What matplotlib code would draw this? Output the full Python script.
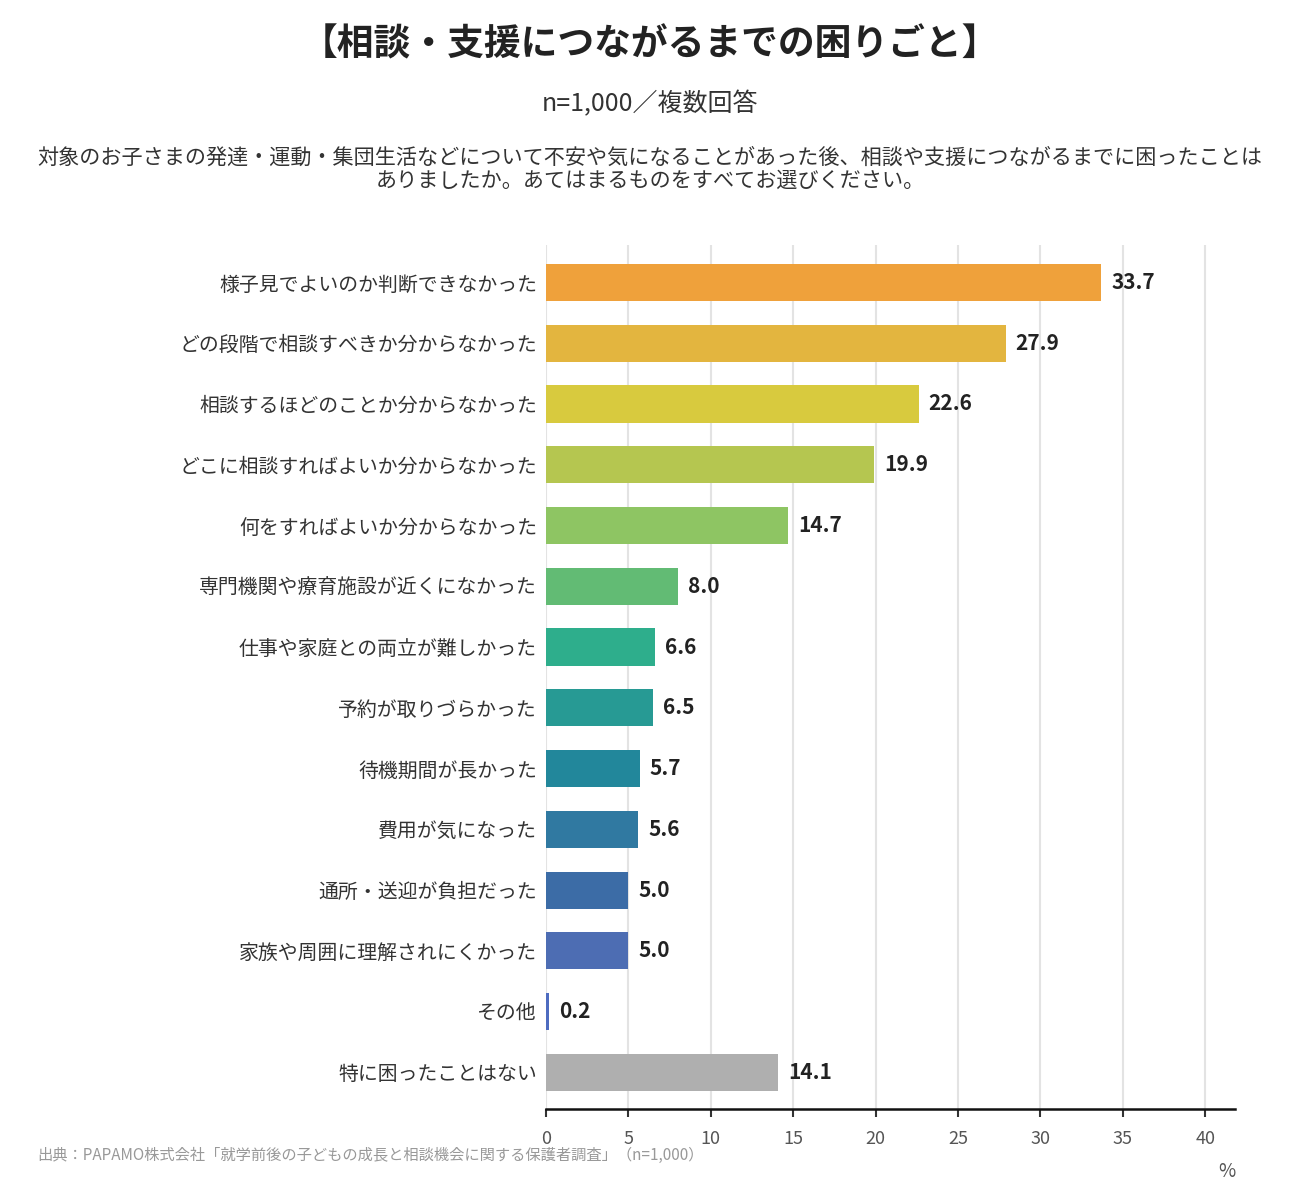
import matplotlib
matplotlib.use("Agg")
import matplotlib.pyplot as plt

plt.rcParams['font.family'] = ['Noto Sans CJK JP', 'DejaVu Sans']

# データ
categories = [
    "様子見でよいのか判断できなかった",
    "どの段階で相談すべきか分からなかった",
    "相談するほどのことか分からなかった",
    "どこに相談すればよいか分からなかった",
    "何をすればよいか分からなかった",
    "専門機関や療育施設が近くになかった",
    "仕事や家庭との両立が難しかった",
    "予約が取りづらかった",
    "待機期間が長かった",
    "費用が気になった",
    "通所・送迎が負担だった",
    "家族や周囲に理解されにくかった",
    "その他",
    "特に困ったことはない",
]
values = [33.7, 27.9, 22.6, 19.9, 14.7, 8.0, 6.6, 6.5, 5.7, 5.6, 5.0, 5.0, 0.2, 14.1]
colors = [
    "#EFA13B", "#E3B53F", "#D8CA3E", "#B5C650", "#8EC563", "#62BB74", "#2EAE8C",
    "#279A94", "#22879B", "#3079A1", "#3C6CA6", "#4D6DB3", "#4E6CC0", "#AFAFAF",
]
xticks = [0, 5, 10, 15, 20, 25, 30, 35, 40]

fig = plt.figure(figsize=(13, 12), dpi=100)
ax = fig.add_axes([0.42, 0.076, 0.53, 0.72])

y = list(range(len(categories)))
ax.barh(y, values, height=0.61, color=colors, zorder=3)

for yi, v in zip(y, values):
    ax.text(v + 0.6, yi, f"{v:.1f}", va="center", ha="left",
            fontsize=15, fontweight="bold", color="#222222")

ax.set_yticks(y)
ax.set_yticklabels(categories, fontsize=14.3, color="#333333")
ax.set_ylim(13.6, -0.62)
ax.set_xlim(0, 41.8)
ax.set_xticks(xticks)
ax.set_xticklabels([str(t) for t in xticks], fontsize=13, color="#555555")

ax.grid(axis="x", color="#E3E3E3", linewidth=1.5, zorder=0)
ax.tick_params(axis="y", length=0, pad=6.5)
ax.tick_params(axis="x", length=6, width=1.5, color="#333333", pad=9)
for s in ["top", "right", "left"]:
    ax.spines[s].set_visible(False)
ax.spines["bottom"].set_color("#111111")
ax.spines["bottom"].set_linewidth(1.8)
ax.spines["bottom"].set_zorder(5)

fig.text(0.5, 0.9625, "【相談・支援につながるまでの困りごと】", ha="center", va="center",
         fontsize=26.5, fontweight="bold", color="#222222")
fig.text(0.5, 0.913, "n=1,000／複数回答", ha="center", va="center",
         fontsize=18, color="#333333")
fig.text(0.5, 0.859,
         "対象のお子さまの発達・運動・集団生活などについて不安や気になることがあった後、相談や支援につながるまでに困ったことは\nありましたか。あてはまるものをすべてお選びください。",
         ha="center", va="center", fontsize=15.2, color="#333333", linespacing=1.1)
fig.text(0.029, 0.0375, "出典：PAPAMO株式会社「就学前後の子どもの成長と相談機会に関する保護者調査」（n=1,000）",
         ha="left", va="center", fontsize=11, color="#999999")
fig.text(0.944, 0.024, "%", ha="center", va="center", fontsize=13.5, color="#555555")

fig.savefig("out.png", dpi=100, facecolor="white")
